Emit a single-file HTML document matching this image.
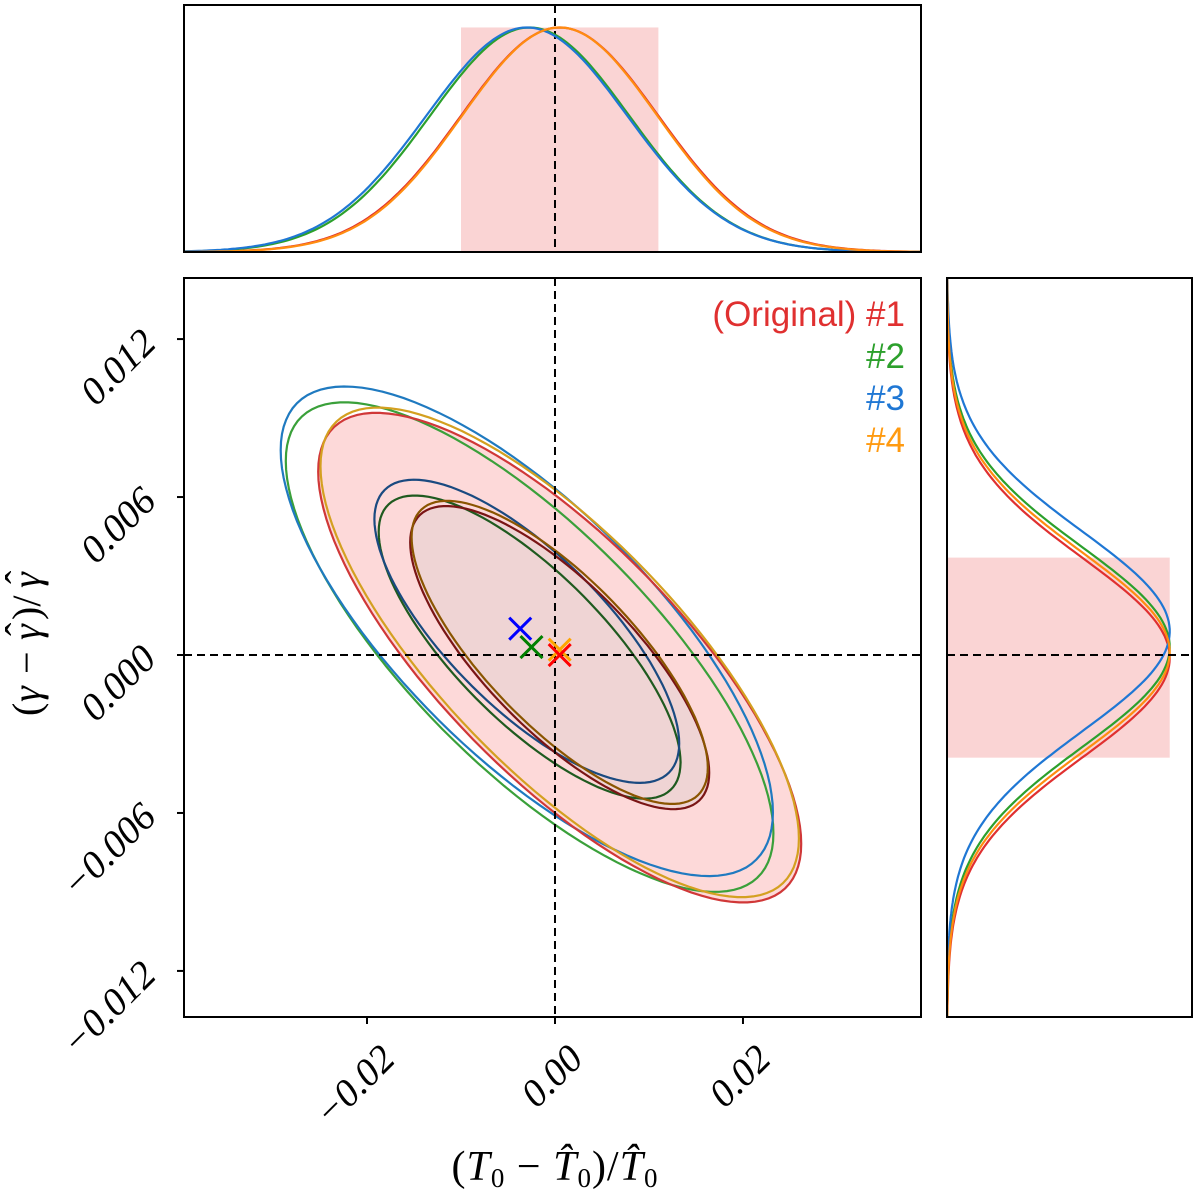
<!DOCTYPE html>
<html><head><meta charset="utf-8"><style>
body{margin:0;background:#fff}
svg text{font-family:"Liberation Sans",sans-serif}
svg text.serif,svg g.serif text{font-family:"Liberation Serif",serif}
.tick{font-family:"Liberation Serif",serif;font-style:italic;font-size:39px}
.leg{font-family:"Liberation Sans",sans-serif;font-size:35px}
</style></head><body>
<svg id="c" width="1200" height="1196" viewBox="0 0 1200 1196" xmlns="http://www.w3.org/2000/svg">
<g id="mainG"></g>
<g id="topG"></g>
<g id="rightG"></g>
<g>
<text class="leg" x="905" y="326" text-anchor="end" fill="#e03030">(Original) #1</text>
<text class="leg" x="905" y="368" text-anchor="end" fill="#2ca02c">#2</text>
<text class="leg" x="905" y="410" text-anchor="end" fill="#1f77d4">#3</text>
<text class="leg" x="905" y="452" text-anchor="end" fill="#ff9a10">#4</text>
</g>
<text class="serif" x="555" y="1180" text-anchor="middle" font-size="42" letter-spacing="1">(<tspan font-style="italic">T</tspan><tspan font-size="27" dy="7">0</tspan><tspan dy="-7"> − </tspan><tspan font-style="italic">T̂</tspan><tspan font-size="27" dy="7">0</tspan><tspan dy="-7">)/</tspan><tspan font-style="italic">T̂</tspan><tspan font-size="27" dy="7">0</tspan></text>
<g class="serif" transform="translate(40,640) rotate(-90)" font-size="40">
<text x="-76" y="0">(</text>
<text x="-62" y="0" font-style="italic">γ</text>
<text x="-34" y="0">−</text>
<text x="0" y="0" font-style="italic">γ</text>
<text x="4" y="-7">ˆ</text>
<text x="20" y="0">)/</text>
<text x="52" y="0" font-style="italic">γ</text>
<text x="56" y="-7">ˆ</text>
</g>
</svg>
<script>
const seriesNames=["original","s2","s3","s4"];
const meanX=[0.0005,-0.0027,-0.0030,0.0005];
const meanY=[-0.0001,0.0003,0.0009,0.0001];
const sigX=[0.0105,0.0106,0.0107,0.0104];
const sigY=[0.0038,0.0038,0.0038,0.0038];
const rho=[-0.76,-0.76,-0.74,-0.76];
const markX=[0.0005,-0.0025,-0.0037,0.0005];
const markY=[0.0000,0.0003,0.0010,0.0002];
const xTicks=[-0.02,0.00,0.02];
const xTickLabels=["−0.02","0.00","0.02"];
const yTicks=[0.012,0.006,0.000,-0.006,-0.012];
const yTickLabels=["0.012","0.006","0.000","−0.006","−0.012"];
const levels=[1.515,2.447];
const outerColors=["#d03838","#3aa03a","#1f7ac0","#d4a020"];
const innerColors=["#7a1515","#1f5a1f","#1a4a80","#8a5500"];
const margColors=["#e03030","#2ca02c","#1f77d4","#ff8c10"];
const markColors=["#ff0000","#008000","#0000ff","#ffa500"];
const NS="http://www.w3.org/2000/svg";
const L=184,R=921,T=278,B=1017,TT=5,TB=252,RL=947,RR=1192;
const X0=-0.03947,X1=0.03894,Y0=-0.01375,Y1=0.01432;
const sx=v=>L+(v-X0)/(X1-X0)*(R-L);
const sy=v=>B-(v-Y0)/(Y1-Y0)*(B-T);
const ty=v=>TB-v/1.1*(TB-TT);
const rx=v=>RL+v/1.1*(RR-RL);
function mk(p,tag,at){const e=document.createElementNS(NS,tag);for(const k in at)e.setAttribute(k,at[k]);p.appendChild(e);return e;}
const mainG=document.getElementById('mainG'),topG=document.getElementById('topG'),rightG=document.getElementById('rightG');
const defs=mk(document.getElementById('c'),'defs',{});
const cp=mk(defs,'clipPath',{id:'cm'});mk(cp,'rect',{x:L,y:T,width:R-L,height:B-T});
const cpt=mk(defs,'clipPath',{id:'ct'});mk(cpt,'rect',{x:L,y:TT,width:R-L,height:TB-TT});
const cpr=mk(defs,'clipPath',{id:'cr'});mk(cpr,'rect',{x:RL,y:T,width:RR-RL,height:B-T});
function ellipsePath(i,k){
  const a=sigX[i],b=sigY[i],r=rho[i];let d='';
  for(let j=0;j<=120;j++){const t=j/120*2*Math.PI;
    const u=Math.cos(t),w=Math.sin(t);
    const x=meanX[i]+k*a*u, y=meanY[i]+k*b*(r*u+Math.sqrt(1-r*r)*w);
    d+=(j?'L':'M')+sx(x).toFixed(1)+','+sy(y).toFixed(1);}
  return d+'Z';}
const pm=mk(mainG,'g',{'clip-path':'url(#cm)'});
let e=mk(pm,'path',{d:ellipsePath(0,levels[1]),fill:'#fdd9d9',stroke:'none'});


e=mk(pm,'path',{d:ellipsePath(0,levels[0]),fill:'#efd4d4',stroke:'none'});


for(const i of [1,2,0,3]){
  e=mk(pm,'path',{d:ellipsePath(i,levels[1]),fill:'none',stroke:outerColors[i],'stroke-width':2.2});
  
  
  e=mk(pm,'path',{d:ellipsePath(i,levels[0]),fill:'none',stroke:innerColors[i],'stroke-width':2.2});
  
  
}
e=mk(pm,'line',{x1:sx(0),x2:sx(0),y1:T,y2:B,stroke:'#000','stroke-width':2,'stroke-dasharray':'8,5'});


e=mk(pm,'line',{x1:L,x2:R,y1:sy(0),y2:sy(0),stroke:'#000','stroke-width':2,'stroke-dasharray':'8,5'});


for(const i of [2,1,3,0]){
  const cx=sx(markX[i]),cy=sy(markY[i]),h=11;
  e=mk(pm,'path',{d:`M${cx-h},${cy-h}L${cx+h},${cy+h}M${cx-h},${cy+h}L${cx+h},${cy-h}`,stroke:markColors[i],'stroke-width':3});
  
  
}
mk(mainG,'rect',{x:L,y:T,width:R-L,height:B-T,fill:'none',stroke:'#000','stroke-width':2});
xTicks.forEach((v,j)=>{const x=sx(v);
  mk(mainG,'line',{x1:x,x2:x,y1:B,y2:B+7,stroke:'#000','stroke-width':2});
  const ax=x+30,ay=B+44;
  e=mk(mainG,'text',{class:'tick',x:ax,y:ay,'text-anchor':'end',transform:`rotate(-45 ${ax} ${ay})`});
  e.textContent=xTickLabels[j];
  
  });
yTicks.forEach((v,j)=>{const y=sy(v);
  mk(mainG,'line',{x1:L-7,x2:L,y1:y,y2:y,stroke:'#000','stroke-width':2});
  const ax=L-26,ay=y+6;
  e=mk(mainG,'text',{class:'tick',x:ax,y:ay,'text-anchor':'end',transform:`rotate(-45 ${ax} ${ay})`});
  e.textContent=yTickLabels[j];
  
  });
const pt=mk(topG,'g',{'clip-path':'url(#ct)'});
e=mk(pt,'rect',{x:sx(meanX[0]-sigX[0]),y:ty(1),width:sx(meanX[0]+sigX[0])-sx(meanX[0]-sigX[0]),height:TB-ty(1),fill:'#fad4d4'});


e=mk(pt,'line',{x1:sx(0),x2:sx(0),y1:TT,y2:TB,stroke:'#000','stroke-width':2,'stroke-dasharray':'8,5'});


for(const i of [0,1,2,3]){let d='';
  for(let j=0;j<=200;j++){const x=X0+(X1-X0)*j/200;const v=Math.exp(-0.5*((x-meanX[i])/sigX[i])**2);
    d+=(j?'L':'M')+sx(x).toFixed(1)+','+ty(v).toFixed(1);}
  e=mk(pt,'path',{d,fill:'none',stroke:margColors[i],'stroke-width':2.2});
  
  }
mk(topG,'rect',{x:L,y:TT,width:R-L,height:TB-TT,fill:'none',stroke:'#000','stroke-width':2});
const pr=mk(rightG,'g',{'clip-path':'url(#cr)'});
e=mk(pr,'rect',{x:RL,y:sy(meanY[0]+sigY[0]),width:rx(1)-RL,height:sy(meanY[0]-sigY[0])-sy(meanY[0]+sigY[0]),fill:'#fad4d4'});


for(const i of [0,1,2,3]){let d='';
  for(let j=0;j<=200;j++){const y=Y0+(Y1-Y0)*j/200;const v=Math.exp(-0.5*((y-meanY[i])/sigY[i])**2);
    d+=(j?'L':'M')+rx(v).toFixed(1)+','+sy(y).toFixed(1);}
  e=mk(pr,'path',{d,fill:'none',stroke:margColors[i],'stroke-width':2.2});
  
  }
e=mk(pr,'line',{x1:RL,x2:RR,y1:sy(0),y2:sy(0),stroke:'#000','stroke-width':2,'stroke-dasharray':'8,5'});


mk(rightG,'rect',{x:RL,y:T,width:RR-RL,height:B-T,fill:'none',stroke:'#000','stroke-width':2});
</script>
</body></html>
